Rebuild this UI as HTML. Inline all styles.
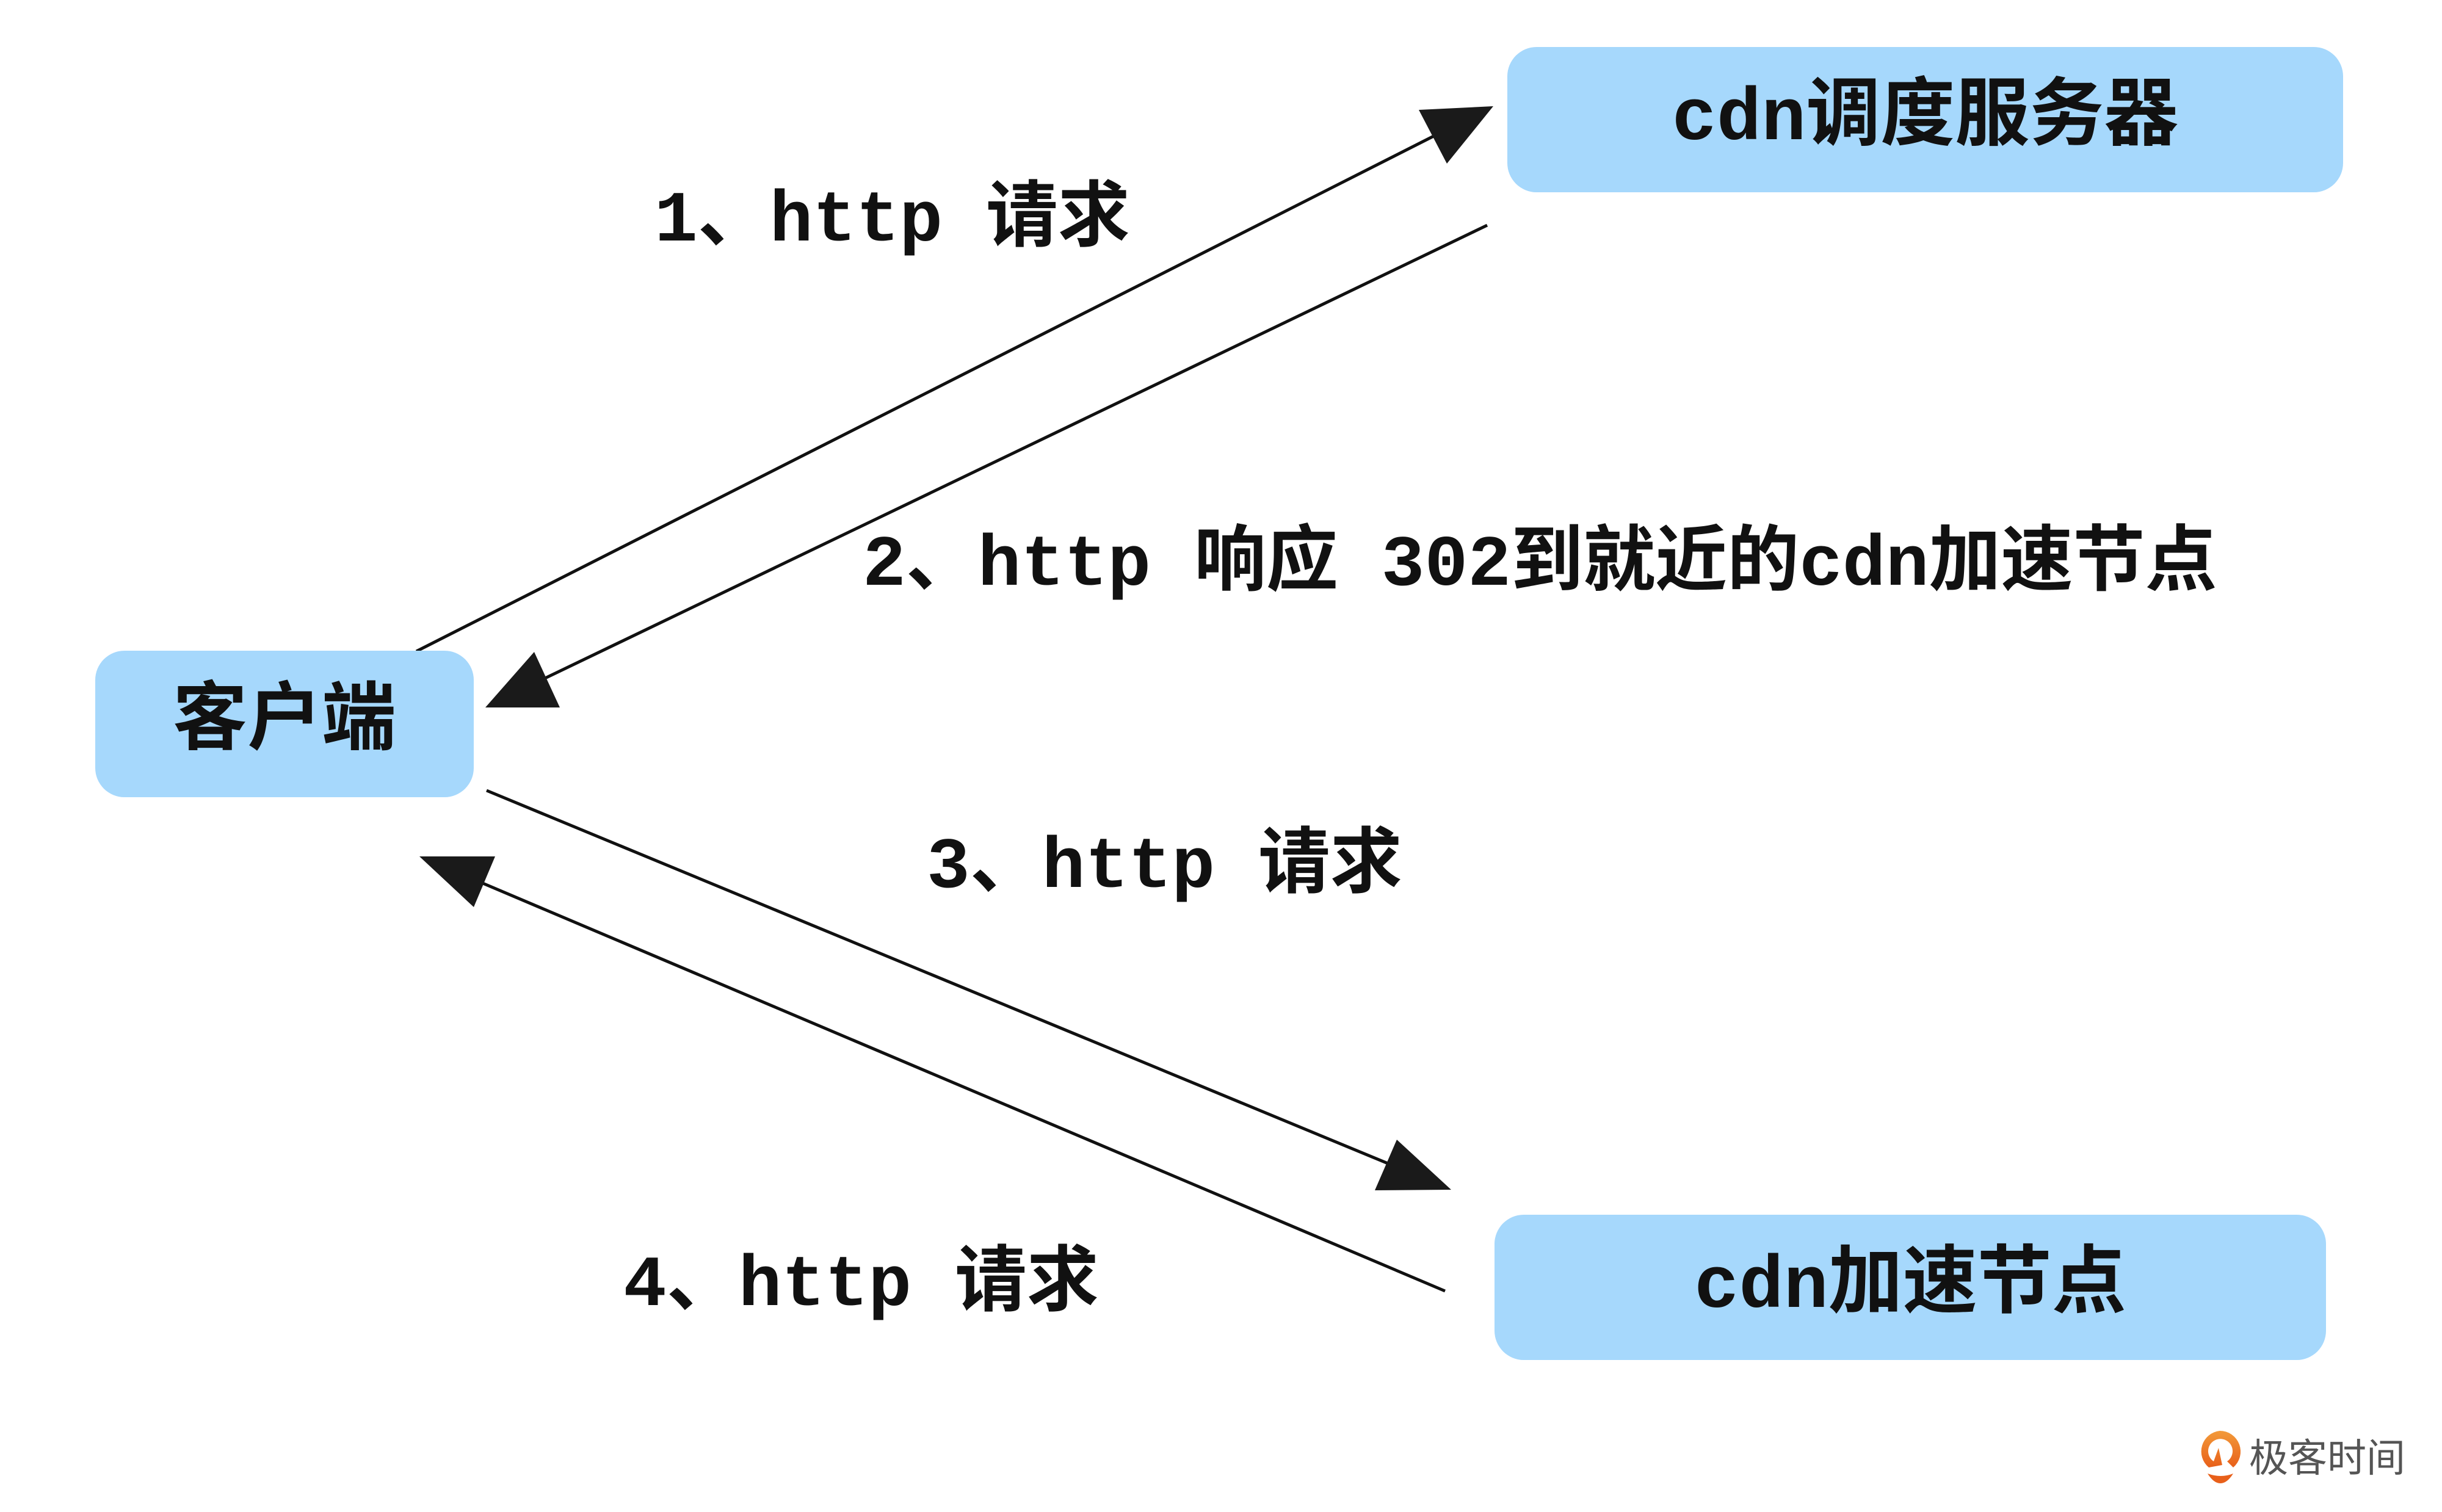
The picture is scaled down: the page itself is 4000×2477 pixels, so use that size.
<!DOCTYPE html>
<html><head><meta charset="utf-8"><style>
html,body{margin:0;padding:0;background:#fff;}
body{width:4000px;height:2477px;position:relative;overflow:hidden;}
.box{position:absolute;background:#a6d8fc;border-radius:48px;display:flex;align-items:center;justify-content:center;font-family:"Liberation Mono","Noto Sans CJK SC",monospace;font-size:122px;font-weight:bold;color:#111;box-sizing:border-box;padding-bottom:40px;}
.lbl{position:absolute;font-family:"Liberation Mono","Noto Sans CJK SC",monospace;font-size:118px;font-weight:bold;color:#111;white-space:pre;line-height:1;}
svg{position:absolute;left:0;top:0;}
</style></head><body>
<svg width="4000" height="2477" viewBox="0 0 4000 2477">
<g stroke="#111" stroke-width="5" fill="none">
<line x1="682" y1="1067" x2="2370" y2="212"/>
<line x1="2436" y1="369" x2="870" y2="1122"/>
<line x1="797" y1="1295" x2="2300" y2="1917"/>
<line x1="2367" y1="2115" x2="765" y2="1436"/>
</g>
<g fill="#1a1a1a">
<polygon points="2446,174 2324,180 2370,268"/>
<polygon points="795,1159 917,1159 875,1068"/>
<polygon points="2377,1949 2288,1867 2252,1950"/>
<polygon points="687,1403 776,1486 811,1403"/>
</g>
</svg>
<div class="box" style="left:2469px;top:77px;width:1369px;height:238px;">cdn调度服务器</div>
<div class="box" style="left:156px;top:1066px;width:620px;height:240px;">客户端</div>
<div class="box" style="left:2448px;top:1990px;width:1362px;height:238px;">cdn加速节点</div>
<div class="lbl" style="left:1072px;top:305px;">1、http 请求</div>
<div class="lbl" style="left:1413px;top:869px;">2、http 响应 302到就近的cdn加速节点</div>
<div class="lbl" style="left:1518px;top:1364px;">3、http 请求</div>
<div class="lbl" style="left:1021px;top:2049px;">4、http 请求</div>
<svg width="80" height="90" viewBox="0 0 80 90" style="left:3600px;top:2342px;">
<defs><linearGradient id="g" x1="0" y1="0" x2="0" y2="1"><stop offset="0" stop-color="#f29a3a"/><stop offset="1" stop-color="#e8601a"/></linearGradient></defs>
<path d="M36,2 A34,34 0 0 1 58,62 L48,52 A20,20 0 1 0 26,52 L34,30 L40,58 L18,62 A34,34 0 0 1 36,2 Z" fill="url(#g)"/>
<path d="M16,72 Q38,80 58,72 Q48,88 37,88 Q26,88 16,72 Z" fill="#e8601a"/>
</svg>
<div style="position:absolute;left:3684px;top:2352px;font-family:'Noto Sans CJK SC',sans-serif;font-size:64px;color:#555;line-height:1;">极客时间</div>
</body></html>
